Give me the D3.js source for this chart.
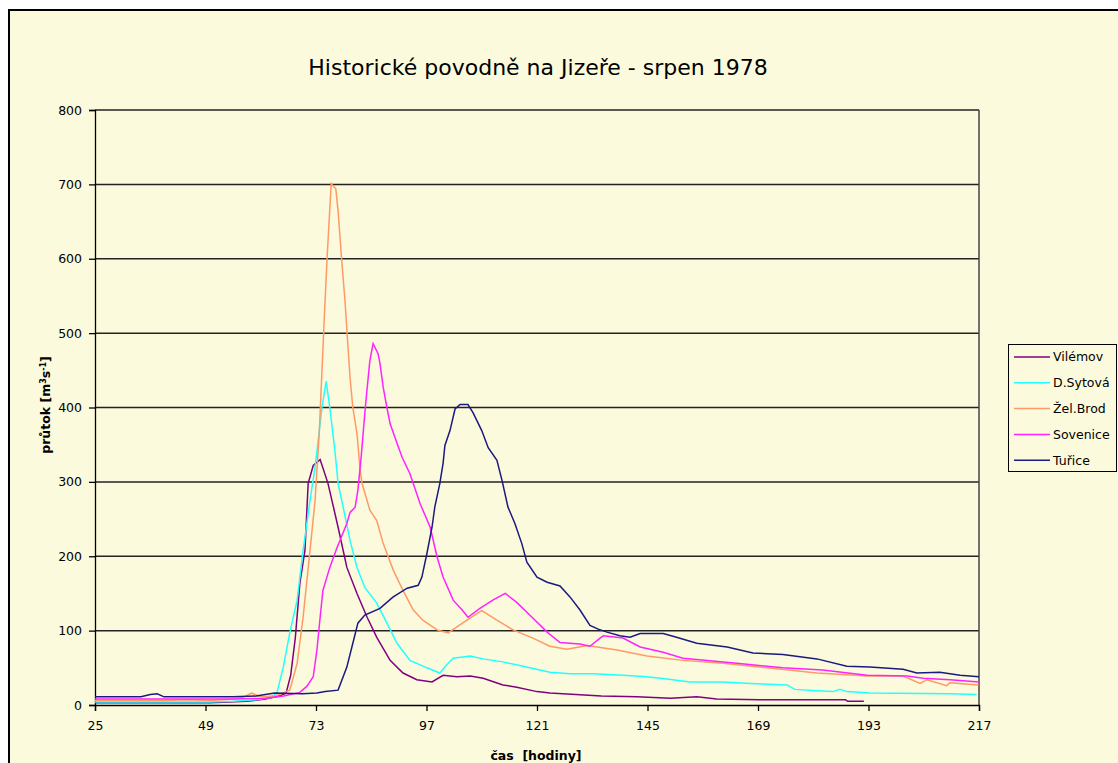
<!DOCTYPE html>
<meta charset="utf-8">
<style>

body {
  margin: 0;
  background: #fff;
}

text {
  font-family: "DejaVu Sans", Verdana, sans-serif;
  fill: #000;
}

.series {
  fill: none;
  stroke-width: 1.5;
}

</style>
<svg></svg>
<script src="https://d3js.org/d3.v7.min.js"></script>
<script>

var width = 1118,
    height = 763;

// hodiny, průtok [m3/s]
var vilemov = [[25,3],[40,3],[50,3],[58,5],[62,8],[65,12],[66.5,16],[67.5,40],[68.5,90],[69.5,164],[70.6,208],[71.3,298],[72.4,322],[73.9,330],[75.6,298],[77.8,239],[79.7,185],[81.9,150],[84.1,118],[86.2,91],[89.1,60],[91.9,43],[94.9,34],[98.2,31],[100.6,40],[103.6,38],[106.5,39],[109.3,36],[113.6,27],[116.6,24],[121,18],[123.8,16],[135,12],[142.7,11],[150,9],[155.7,11],[160,8],[169.4,7],[188,7],[188.5,5],[192,5]];

var sytova = [[25,4],[50,4],[55,5],[60,7],[63,10],[64.5,16],[65.9,51],[67.3,97],[68.9,141],[70.2,208],[71.7,275],[72.8,320],[74.3,400],[75.2,435],[76,400],[77.1,342],[77.8,298],[78.9,266],[80.4,221],[81.9,185],[83.6,158],[86.2,137],[88.4,110],[90.6,83],[93.4,60],[97.1,50],[99.9,43],[101.4,54],[102.8,63],[106.5,66],[109.3,62],[113.6,58],[118,52],[123.8,44],[128.2,42],[133.2,42],[139.7,40],[144.9,38],[149.2,35],[154.2,31],[161.4,31],[167.3,29],[175.3,27],[177,21],[181.8,19],[185.3,18],[186.8,21],[188.3,18],[193.3,16],[210.7,15],[216.5,14]];

var zelbrod = [[25,6],[40,6],[45,7],[50,6],[55,8],[57,10],[59,16],[61,11],[64,12],[67.3,20],[68.9,56],[70.2,118],[71.7,208],[72.8,275],[73.7,365],[74.3,450],[74.8,520],[75.4,600],[76.3,701],[77.3,694],[77.8,664],[78.6,597],[79.3,543],[79.9,486],[80.4,440],[81,400],[81.9,365],[82.6,315],[83,298],[84.7,262],[86.2,248],[87.6,217],[89.8,181],[91.9,154],[94.1,128],[96.2,114],[99.3,101],[101.7,97],[103.6,105],[106.5,117],[109,127],[112.3,114],[115.8,101],[120.1,90],[123.8,79],[127.5,75],[131.9,80],[138.4,74],[144.9,66],[152.7,60],[161.4,56],[171,50],[181.8,43],[192.7,39],[200.5,39],[204.2,29],[205.7,34],[210,26],[210.7,30],[216.9,27]];

var sovenice = [[25,8],[45,8],[55,8],[62,9],[66,12],[69.5,17],[71,25],[72.4,38],[73.2,74],[73.9,118],[74.5,154],[76,185],[77.6,212],[79.7,244],[80.4,259],[81.5,266],[82.1,289],[82.8,333],[83.6,392],[84,419],[84.7,463],[85.4,486],[86.5,472],[86.9,459],[87.6,427],[88.4,400],[89.1,378],[90.6,352],[91.7,333],[93.4,311],[95.6,271],[97.8,239],[99.3,199],[100.6,172],[102.8,141],[104.7,128],[106,118],[108.6,130],[111.4,141],[114.1,150],[116.6,138],[120.1,117],[123.2,98],[126,84],[130.3,82],[132.5,79],[134.7,90],[135.4,93],[139.7,90],[143.4,78],[148.4,71],[152.7,63],[164.4,56],[174.4,50],[183,47],[192.7,40],[201.4,39],[204.9,36],[210.7,34],[217,31]];

var turice = [[25,11],[35,11],[37,14],[38.5,15],[40,11],[55,11],[60,12],[64,16],[70,15],[73.2,16],[75,18],[77.8,20],[79.7,51],[81,83],[82.1,110],[83.6,121],[86.9,130],[89.7,145],[92.8,157],[95.2,161],[96,172],[97.1,204],[98.2,239],[98.8,266],[99.9,298],[100.6,325],[101,349],[102.1,369],[103.2,398],[104.3,404],[106,404],[107.1,393],[109,369],[110.4,346],[112.3,329],[113.4,302],[114.7,266],[116.2,244],[117.7,217],[118.8,192],[121,172],[123.2,165],[126,160],[128.2,145],[130.3,128],[132.5,107],[134.3,102],[136.2,98],[139,93],[141.2,91],[143.4,96],[148.4,96],[151.3,91],[155.7,83],[162.3,78],[167.9,70],[174.4,68],[181.8,62],[188.3,52],[193.3,51],[200.5,48],[203.5,43],[208.5,44],[212.9,40],[217,38]];

var names = ["Vilémov", "D.Sytová", "Žel.Brod", "Sovenice", "Tuřice"];
var colors = ["#800080", "#22ffff", "#ff9966", "#ff22ff", "#1a1a80"];
var xTicks = [25, 49, 73, 97, 121, 145, 169, 193, 217];
var yTicks = [0, 100, 200, 300, 400, 500, 600, 700, 800];

var allSeries = [vilemov, sytova, zelbrod, sovenice, turice];

var svg = d3.select("svg")
    .attr("width", width)
    .attr("height", height);

// chart frame
svg.append("rect")
    .attr("x", 9).attr("y", 10)
    .attr("width", 1130).attr("height", 780)
    .attr("fill", "#fcfadc")
    .attr("stroke", "#000")
    .attr("stroke-width", 2);

var x = d3.scaleLinear().domain([25, 217]).range([95, 979]);
var y = d3.scaleLinear().domain([0, 800]).range([705, 110]);

// gridlines
svg.append("g").selectAll("line")
    .data(yTicks.slice(1))
  .enter().append("line")
    .attr("x1", x(25)).attr("x2", x(217))
    .attr("y1", function(d) { return y(d); })
    .attr("y2", function(d) { return y(d); })
    .attr("stroke", "#222")
    .attr("stroke-width", 1.5);

svg.append("line")
    .attr("x1", x(217)).attr("x2", x(217))
    .attr("y1", y(800)).attr("y2", y(0))
    .attr("stroke", "#444").attr("stroke-width", 1.5);

var xAxis = svg.append("g")
    .attr("transform", "translate(0," + y(0) + ")")
    .call(d3.axisBottom(x).tickValues(xTicks).tickSize(6).tickPadding(10));

var yAxis = svg.append("g")
    .attr("transform", "translate(" + x(25) + ",0)")
    .call(d3.axisLeft(y).tickValues(yTicks).tickSize(6).tickPadding(7));

svg.selectAll(".domain, .tick line").attr("stroke", "#000").attr("stroke-width", 1.3);
svg.selectAll(".tick text")
    .style("font-family", "'DejaVu Sans', sans-serif")
    .style("font-size", "12.5px");

var line = d3.line()
    .x(function(d) { return x(d[0]); })
    .y(function(d) { return y(d[1]); });

svg.append("g").selectAll("path")
    .data(allSeries)
  .enter().append("path")
    .attr("class", "series")
    .attr("stroke", function(d, i) { return colors[i]; })
    .attr("d", line);

// titles
svg.append("text")
    .attr("x", 538).attr("y", 75)
    .attr("text-anchor", "middle")
    .style("font-size", "22px")
    .text("Historické povodně na Jizeře - srpen 1978");

svg.append("text")
    .attr("x", 536).attr("y", 760)
    .attr("text-anchor", "middle")
    .style("font-size", "12.5px")
    .style("font-weight", "bold")
    .style("white-space", "pre")
    .text("čas  [hodiny]");

var ylab = svg.append("text")
    .attr("transform", "translate(50,405) rotate(-90)")
    .attr("text-anchor", "middle")
    .style("font-size", "12.5px")
    .style("font-weight", "bold");
ylab.append("tspan").text("průtok [m");
ylab.append("tspan").attr("dy", -4).style("font-size", "8px").text("3");
ylab.append("tspan").attr("dy", 4).text("s");
ylab.append("tspan").attr("dy", -4).style("font-size", "8px").text("-1");
ylab.append("tspan").attr("dy", 4).text("]");

// legend
var legend = svg.append("g");
legend.append("rect")
    .attr("x", 1008.5).attr("y", 344.5)
    .attr("width", 108).attr("height", 127)
    .attr("fill", "none")
    .attr("stroke", "#000");

var item = legend.selectAll("g.item")
    .data(names)
  .enter().append("g")
    .attr("class", "item")
    .attr("transform", function(d, i) { return "translate(0," + (357 + i * 25.8) + ")"; });

item.append("line")
    .attr("x1", 1014).attr("x2", 1050)
    .attr("stroke", function(d, i) { return colors[i]; })
    .attr("stroke-width", 1.5);

item.append("text")
    .attr("x", 1053).attr("dy", "0.35em")
    .style("font-size", "12.5px")
    .text(function(d) { return d; });

</script>
